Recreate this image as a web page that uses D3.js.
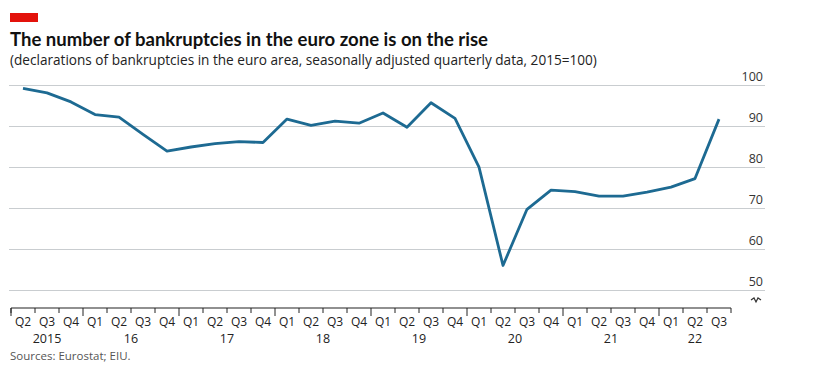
<!DOCTYPE html>
<html>
<head>
<meta charset="utf-8">
<script src="https://cdn.jsdelivr.net/npm/d3@7"></script>
<style>
  body { margin: 0; background: #fff; }
  text { font-family: "Open Sans", sans-serif; }
</style>
</head>
<body>
<div class="chart"></div>
<script>
const width = 817
const height = 377

// data
const years = [2015, 2016, 2017, 2018, 2019, 2020, 2021, 2022]
const yearLabels = ["2015", "16", "17", "18", "19", "20", "21", "22"]
const quarters = [
    "2015Q2", "2015Q3", "2015Q4",
    "2016Q1", "2016Q2", "2016Q3", "2016Q4",
    "2017Q1", "2017Q2", "2017Q3", "2017Q4",
    "2018Q1", "2018Q2", "2018Q3", "2018Q4",
    "2019Q1", "2019Q2", "2019Q3", "2019Q4",
    "2020Q1", "2020Q2", "2020Q3", "2020Q4",
    "2021Q1", "2021Q2", "2021Q3", "2021Q4",
    "2022Q1", "2022Q2", "2022Q3"
]
const values = [
    99.3, 98.2, 96.0,
    92.9, 92.3, 88.1, 84.0,
    85.0, 85.8, 86.3, 86.1,
    91.8, 90.3, 91.3, 90.8,
    93.3, 89.8, 95.8, 92.0,
    80.1, 56.1, 69.8, 74.5,
    74.1, 73.0, 73.0, 74.0,
    75.2, 77.3, 91.8
]
const yTicks = [50, 60, 70, 80, 90, 100]

const svg = d3.select(".chart")
    .append("svg")
    .attr("width", width)
    .attr("height", height)

// red tag + titles
svg.append("rect")
    .attr("x", 10).attr("y", 13)
    .attr("width", 28).attr("height", 9)
    .attr("fill", "#e3120b")

const title = svg.append("text")
    .attr("x", 10).attr("y", 46)
    .attr("font-size", 18.5).attr("font-weight", "bold")
    .style("font-family", "Lato, sans-serif")
    .attr("fill", "#111")
    .text("The number of bankruptcies in the euro zone is on the rise")

// fit the title to the reference width
const tw = title.node().getComputedTextLength()
title.attr("textLength", 478).attr("lengthAdjust", "spacingAndGlyphs")
if (Math.abs(tw - 478) > 40) title.attr("textLength", null)

svg.append("text")
    .attr("x", 10).attr("y", 65)
    .attr("font-size", 13.6).attr("fill", "#222")
    .text("(declarations of bankruptcies in the euro area, seasonally adjusted quarterly data, 2015=100)")

const left = 11
const right = 731

const xScale = d3.scaleBand()
    .domain(quarters)
    .range([left, right])

const yScale = d3.scaleLinear()
    .domain([50, 100])
    .range([290.5, 85.5])

// gridlines
svg.append("g")
    .selectAll("line")
    .data(yTicks)
    .join("line")
    .attr("x1", 9).attr("x2", 765)
    .attr("y1", d => yScale(d)).attr("y2", d => yScale(d))
    .attr("stroke", "#c9cdd0").attr("stroke-width", 1)

svg.append("g")
    .selectAll("text")
    .data(yTicks)
    .join("text")
    .attr("x", 763)
    .attr("y", d => yScale(d) - 5)
    .attr("text-anchor", "end")
    .attr("font-size", 12.5).attr("fill", "#333")
    .text(d => d)

// axis break symbol under 50
svg.append("path")
    .attr("d", "M751,300 l3,-2 l2,4 l2,-4 l3,2")
    .attr("fill", "none").attr("stroke", "#333").attr("stroke-width", 1.2)

// x axis
const axisY = 308
svg.append("line")
    .attr("x1", left).attr("x2", right)
    .attr("y1", axisY).attr("y2", axisY)
    .attr("stroke", "#222").attr("stroke-width", 1.2)

svg.append("g")
    .selectAll("line")
    .data(quarters)
    .join("line")
    .attr("x1", d => xScale(d)).attr("x2", d => xScale(d))
    .attr("y1", axisY)
    .attr("y2", d => d.endsWith("Q1") ? axisY + 8 : axisY + 5)
    .attr("stroke", "#222").attr("stroke-width", 1)

svg.append("line")
    .attr("x1", right).attr("x2", right)
    .attr("y1", axisY).attr("y2", axisY + 5)
    .attr("stroke", "#222").attr("stroke-width", 1)

svg.append("line")
    .attr("x1", left).attr("x2", left)
    .attr("y1", axisY).attr("y2", axisY + 8)
    .attr("stroke", "#222").attr("stroke-width", 1)

svg.append("g")
    .selectAll("text")
    .data(quarters)
    .join("text")
    .attr("x", d => xScale(d) + xScale.bandwidth() / 2)
    .attr("y", axisY + 18)
    .attr("text-anchor", "middle")
    .attr("font-size", 12).attr("fill", "#222")
    .text(d => d.slice(4))

svg.append("g")
    .selectAll("text")
    .data(years)
    .join("text")
    .attr("x", (d, i) => {
        const qs = quarters.filter(q => q.startsWith(d))
        const x0 = xScale(qs[0])
        const x1 = xScale(qs[qs.length - 1]) + xScale.bandwidth()
        return (x0 + x1) / 2
    })
    .attr("y", axisY + 35)
    .attr("text-anchor", "middle")
    .attr("font-size", 12.5).attr("fill", "#222")
    .text((d, i) => yearLabels[i])

svg.append("text")
    .attr("x", 10).attr("y", 360)
    .attr("font-size", 11.5).attr("fill", "#555")
    .text("Sources: Eurostat; EIU.")

// line
const line = d3.line()
    .x((d, i) => xScale(quarters[i]) + xScale.bandwidth() / 2)
    .y(d => yScale(d))

svg.append("path")
    .attr("d", line(values))
    .attr("fill", "none")
    .attr("stroke", "#1d6a92")
    .attr("stroke-width", 2.8)
    .attr("stroke-linejoin", "round")
</script>
</body>
</html>
